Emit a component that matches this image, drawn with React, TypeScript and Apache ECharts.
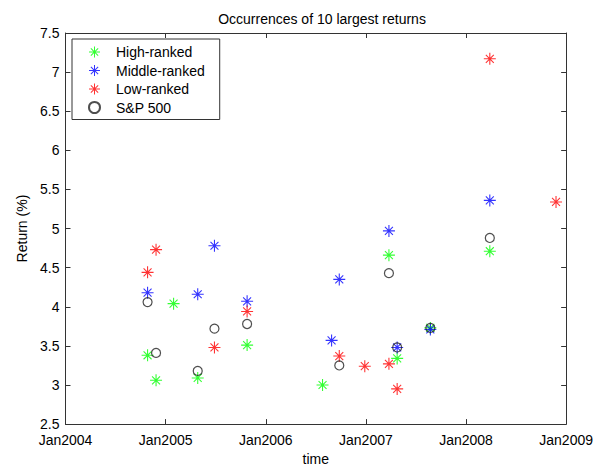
import React, { useEffect, useRef } from "react";
import * as echarts from "echarts";

// ---- Data ----
const titleText = "Occurrences of 10 largest returns";
const xTickYears = [2004, 2005, 2006, 2007, 2008, 2009];

const highDates = ["2004-10-27", "2004-11-27", "2005-01-30", "2005-04-28", "2005-10-25", "2006-07-27", "2007-03-26", "2007-04-25", "2007-08-24", "2008-03-28"];
const highValues = [3.38, 3.06, 4.04, 3.09, 3.51, 3.0, 4.66, 3.34, 3.73, 4.71];

const middleDates = ["2004-10-27", "2005-04-28", "2005-06-28", "2005-10-25", "2006-08-29", "2006-09-26", "2007-03-26", "2007-04-25", "2007-08-24", "2008-03-28"];
const middleValues = [4.18, 4.16, 4.78, 4.07, 3.57, 4.35, 4.97, 3.48, 3.71, 5.36];

const lowDates = ["2004-10-27", "2004-11-27", "2005-06-28", "2005-10-25", "2006-09-26", "2006-12-28", "2007-03-26", "2007-04-25", "2008-03-28", "2008-11-25"];
const lowValues = [4.44, 4.73, 3.48, 3.94, 3.37, 3.24, 3.27, 2.95, 7.17, 5.34];

const spDates = ["2004-10-27", "2004-11-27", "2005-04-28", "2005-06-28", "2005-10-25", "2006-09-26", "2007-03-26", "2007-04-25", "2007-08-24", "2008-03-28"];
const spValues = [4.06, 3.41, 3.18, 3.72, 3.78, 3.25, 4.43, 3.48, 3.73, 4.88];

// convert an ISO date to a decimal year for the value axis
function toYear(d: string): number {
  const dt = new Date(d + "T00:00:00Z");
  const y = dt.getUTCFullYear();
  const s = Date.UTC(y, 0, 1);
  const e = Date.UTC(y + 1, 0, 1);
  return y + (dt.getTime() - s) / (e - s);
}

function pairs(dates: string[], vals: number[]) {
  return dates.map((d, i) => [toYear(d), vals[i]]);
}

const STAR =
  "path://M10 0 H12 V22 H10 Z M0 10 H22 V12 H0 Z M4.4 3 L19 17.6 L17.6 19 L3 4.4 Z M17.6 3 L19 4.4 L4.4 19 L3 17.6 Z";

const FONT = "'Liberation Sans', Arial, Helvetica, sans-serif";
const AXIS_COLOR = "#333";

export default function App() {
  const ref = useRef<HTMLDivElement>(null);

  useEffect(() => {
    if (!ref.current) return;
    const chart = echarts.init(ref.current, undefined, { renderer: "svg" });

    const baseX = {
      type: "value" as const,
      min: xTickYears[0],
      max: xTickYears[xTickYears.length - 1],
      interval: 1,
      splitLine: { show: false },
      axisLine: { show: true, lineStyle: { color: AXIS_COLOR, width: 1 } },
      axisTick: { show: true, inside: true, length: 5, lineStyle: { color: AXIS_COLOR } },
    };
    const baseY = {
      type: "value" as const,
      min: 2.5,
      max: 7.5,
      interval: 0.5,
      splitLine: { show: false },
      axisLine: { show: true, lineStyle: { color: AXIS_COLOR, width: 1 } },
      axisTick: { show: true, inside: true, length: 5, lineStyle: { color: AXIS_COLOR } },
    };

    const option = {
      animation: false,
      backgroundColor: "#fff",
      textStyle: { fontFamily: FONT },
      title: {
        text: titleText,
        left: 317,
        textAlign: "center",
        top: 7,
        textStyle: { fontFamily: FONT, fontSize: 14, fontWeight: "normal", color: "#000" },
      },
      grid: { left: 65.5, right: 27, top: 33, bottom: 42, containLabel: false },
      legend: {
        orient: "vertical",
        left: 72,
        top: 39,
        padding: [6, 15, 5, 16],
        itemGap: 4.5,
        itemWidth: 11,
        itemHeight: 11,
        borderColor: AXIS_COLOR,
        borderWidth: 1,
        backgroundColor: "#fff",
        textStyle: { fontFamily: FONT, fontSize: 14, color: "#000", padding: [0, 0, 0, 11] },
        data: ["High-ranked", "Middle-ranked", "Low-ranked", "S&P 500"],
      },
      xAxis: [
        {
          ...baseX,
          position: "bottom",
          axisLabel: {
            fontFamily: FONT,
            fontSize: 14,
            color: "#000",
            margin: 9,
            formatter: (v: number) => "Jan" + v,
          },
          name: "time",
          nameLocation: "middle",
          nameGap: 25,
          nameTextStyle: { fontFamily: FONT, fontSize: 14, color: "#000" },
        },
        { ...baseX, position: "top", axisLabel: { show: false } },
      ],
      yAxis: [
        {
          ...baseY,
          position: "left",
          axisLabel: { fontFamily: FONT, fontSize: 14, color: "#000", margin: 6 },
          name: "Return (%)",
          nameLocation: "middle",
          nameGap: 37,
          nameTextStyle: { fontFamily: FONT, fontSize: 14, color: "#000" },
        },
        { ...baseY, position: "right", axisLabel: { show: false } },
      ],
      series: [
        {
          name: "High-ranked",
          type: "scatter",
          symbol: STAR,
          symbolSize: 12,
          itemStyle: { color: "#00ff00" },
          data: pairs(highDates, highValues),
        },
        {
          name: "Middle-ranked",
          type: "scatter",
          symbol: STAR,
          symbolSize: 12,
          itemStyle: { color: "#0000ff" },
          data: pairs(middleDates, middleValues),
        },
        {
          name: "Low-ranked",
          type: "scatter",
          symbol: STAR,
          symbolSize: 12,
          itemStyle: { color: "#ff0000" },
          data: pairs(lowDates, lowValues),
        },
        {
          name: "S&P 500",
          type: "scatter",
          symbol: "circle",
          symbolSize: 9,
          itemStyle: { color: "rgba(0,0,0,0)", borderColor: "#222", borderWidth: 1.2 },
          data: pairs(spDates, spValues),
        },
      ],
    };

    chart.setOption(option as any);
    return () => chart.dispose();
  }, []);

  return (
    <div
      ref={ref}
      style={{ position: "fixed", left: 0, top: 0, width: 596, height: 471, background: "#fff" }}
    />
  );
}
